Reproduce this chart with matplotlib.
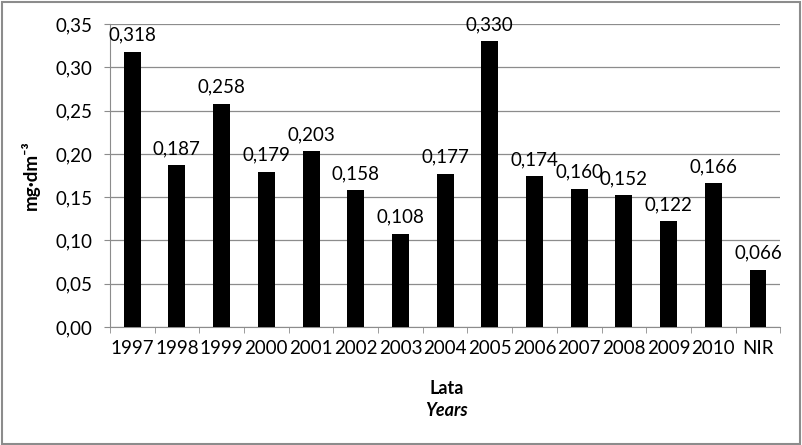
import matplotlib.pyplot as plt
from matplotlib.patches import Rectangle

years = ['1997', '1998', '1999', '2000', '2001', '2002', '2003', '2004',
         '2005', '2006', '2007', '2008', '2009', '2010', 'NIR']
values = [0.318, 0.187, 0.258, 0.179, 0.203, 0.158, 0.108, 0.177,
          0.330, 0.174, 0.160, 0.152, 0.122, 0.166, 0.066]
y_ticks = [0.00, 0.05, 0.10, 0.15, 0.20, 0.25, 0.30, 0.35]

plt.rcParams['font.family'] = ['Lato', 'DejaVu Sans']

fig = plt.figure(figsize=(8.02, 4.45), dpi=100)
ax = fig.add_axes([0.137, 0.265, 0.836, 0.681])

x = list(range(len(years)))
ax.bar(x, values, width=0.38, color='black', zorder=3)

# value labels above bars
for xi, v in zip(x, values):
    ax.text(xi, v + 0.0095, f'{v:.3f}'.replace('.', ','), ha='center', va='bottom',
            fontsize=13.5, zorder=4)

ax.set_xlim(-0.5, len(years) - 0.5)
ax.set_ylim(0, 0.35)
ax.set_yticks(y_ticks)
ax.set_yticklabels([f'{t:.2f}'.replace('.', ',') for t in y_ticks], fontsize=13.5)
ax.grid(axis='y', color='#8c8c8c', linewidth=0.9, zorder=0)

ax.set_xticks(x)
ax.set_xticklabels(years, fontsize=13.5)
ax.tick_params(axis='x', length=0, pad=9)
ax.set_xticks([i - 0.5 for i in range(len(years) + 1)], minor=True)
ax.tick_params(axis='x', which='minor', length=4.5, color='#8c8c8c')
ax.tick_params(axis='y', length=4.5, color='#8c8c8c', pad=8)

for side in ['top', 'right']:
    ax.spines[side].set_visible(False)
for side in ['left', 'bottom']:
    ax.spines[side].set_color('#8c8c8c')

ax.set_ylabel('mg·dm⁻³', fontsize=13.5, fontweight='bold')
ax.yaxis.set_label_coords(-0.104, 0.5)
fig.text(0.5565, 0.115, 'Lata', ha='center', fontsize=13, fontweight='bold')
fig.text(0.5565, 0.066, 'Years', ha='center', fontsize=13, fontweight='bold',
         style='italic')

# figure border
fig.patches.append(Rectangle((0.002, 0.003), 0.995, 0.993, transform=fig.transFigure,
                             fill=False, edgecolor='#8c8c8c', linewidth=1.5))

fig.savefig('out.png', dpi=100)
